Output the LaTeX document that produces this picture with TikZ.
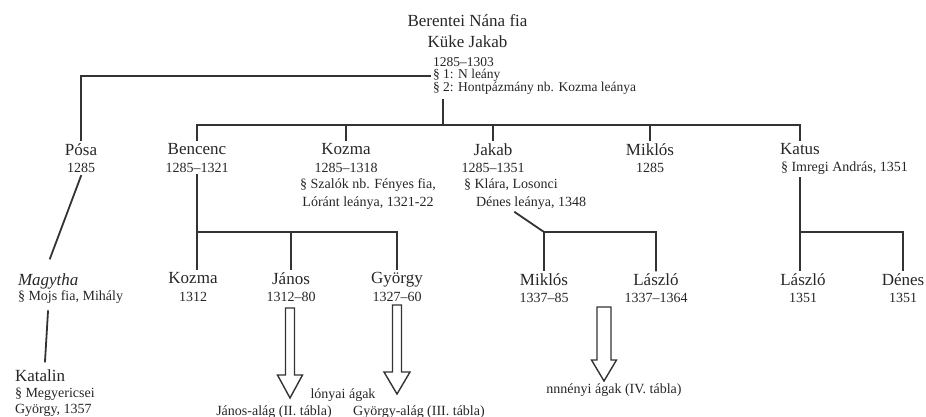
\documentclass[tikz,border=0pt]{standalone}
\usepackage{fontspec}
\setmainfont{Liberation Serif}
\usepackage{tikz}
\usetikzlibrary{calc}

\newcommand{\pname}[1]{{\fontsize{17}{17.5}\selectfont #1}}
\newcommand{\hollowarrow}[5]{%
        \draw [arrow_style] ($(#1)+(-#3,0)$) -- ($(#2)+(-#3,-#5)$) -- ($(#2)+(-#4,-#5)$)
        -- (#2) -- ($(#2)+(#4,-#5)$) -- ($(#2)+(#3,-#5)$) -- ($(#1)+(#3,0)$) -- cycle;}

\begin{document}
\begin{tikzpicture}[x=1pt, y=-1pt,
        node_style/.style={inner sep=0pt, outer sep=3pt, align=center, text=black!85, font=\fontsize{14}{17.5}\selectfont},
        left_node_style/.style={node_style, align=left},
        edge_style/.style={draw=black!80, line width=1.8pt, line cap=rect},
        arrow_style/.style={draw=black!80, line width=1.4pt, fill=white, line join=miter}]

        \useasboundingbox (0,0) rectangle (926,417);

        \node [node_style, anchor=north, font=\fontsize{17}{21}\selectfont](kuke) at (467.5,12) {Berentei Nána fia\\Küke Jakab};

        \node [left_node_style, anchor=north west, font=\fontsize{13.5}{12.5}\selectfont](kuke_dat) at (430,54.5) {1285–1303\\§ 1: N leány\\§ 2: Hontpázmány nb. Kozma leánya};

        \node [node_style, anchor=north](posa) at (81,140.5) {\pname{Pósa}\\1285};

        \node [node_style, anchor=north](bencenc) at (197,140.5) {\pname{Bencenc}\\1285–1321};

        \node [node_style, anchor=north](kozma) at (346,140.5) {\pname{Kozma}\\1285–1318};

        \node [node_style, anchor=north](kozma_sp) at (368,176) {§ Szalók nb. Fényes fia,\\Lóránt leánya, 1321-22};

        \node [node_style, anchor=north](jakab) at (493,140.5) {\pname{Jakab}\\1285–1351};

        \node [left_node_style, anchor=north west](jakab_sp) at (461,176) {§ Klára, Losonci\\\hspace{12pt}Dénes leánya, 1348};

        \node [node_style, anchor=north](miklos) at (650,140.5) {\pname{Miklós}\\1285};

        \node [node_style, anchor=north](katus) at (800,140.5) {\pname{Katus}};

        \node [left_node_style, anchor=north west](katus_sp) at (778,159) {§ Imregi András, 1351};

        \node [left_node_style, anchor=north west, font=\fontsize{14}{15}\selectfont](magytha) at (15,270.5) {\pname{\itshape Magytha}\\§ Mojs fia, Mihály};

        \node [node_style, anchor=north](kozma2) at (193,269.5) {\pname{Kozma}\\1312};

        \node [node_style, anchor=north](janos) at (291,269.5) {\pname{János}\\1312–80};

        \node [node_style, anchor=north](gyorgy) at (397,269.5) {\pname{György}\\1327–60};

        \node [node_style, anchor=north](miklos2) at (544,270.5) {\pname{Miklós}\\1337–85};

        \node [node_style, anchor=north](laszlo) at (656,270.5) {\pname{László}\\1337–1364};

        \node [node_style, anchor=north](laszlo2) at (803,270.5) {\pname{László}\\1351};

        \node [node_style, anchor=north](denes) at (903,270.5) {\pname{Dénes}\\1351};

        \node [left_node_style, anchor=north west, font=\fontsize{14}{16}\selectfont](katalin) at (12,366.5) {\pname{Katalin}\\§ Megyericsei\\György, 1357};

        \node [node_style, anchor=base](lonyai_br) at (343,398) {lónyai ágak};

        \node [node_style, anchor=base](janos_br) at (274,415) {János-alág (II. tábla)};

        \node [node_style, anchor=base](gyorgy_br) at (419,415) {György-alág (III. tábla)};

        \node [node_style, anchor=base](jakab_br) at (614,393) {nnnényi ágak (IV. tábla)};

        \coordinate (kuke_foot) at (443,100);
        \coordinate (bar1) at (443,125);
        \coordinate (bar2) at (443,232);

        \draw [edge_style] (posa.north) |- (kuke_dat.west);

        \draw [edge_style] (kuke_foot) -- (bar1);

        \draw [edge_style] (bencenc.north |- bar1) -- (katus.north |- bar1);

        \foreach \n in {bencenc,kozma,jakab,miklos,katus}
            \draw [edge_style] (\n.north |- bar1) -- (\n.north);

        \draw [edge_style] (posa.south) -- ($(magytha.north west)+(35,-12)$);

        \draw [edge_style] ($(magytha.south west)+(33,5)$) -- ($(katalin.north west)+(33,-5)$);

        \draw [edge_style] (bencenc.south) -- (bencenc.south |- kozma2.north);

        \draw [edge_style] (bencenc.south |- bar2) -| (gyorgy.north);

        \draw [edge_style] (janos.north |- bar2) -- (janos.north);

        \draw [edge_style] ($(jakab_sp.south)+(-10,0)$) -- (miklos2.north |- bar2) -| (laszlo.north);

        \draw [edge_style] (miklos2.north |- bar2) -- (miklos2.north);

        \draw [edge_style] (katus.south |- katus_sp.south) -- (katus.south |- laszlo2.north);

        \draw [edge_style] (katus.south |- bar2) -| (denes.north);

        \coordinate (janos_top) at (290,308);
        \coordinate (janos_tip) at (290,398);
        \coordinate (gyorgy_top) at (397,305);
        \coordinate (gyorgy_tip) at (397,394);
        \coordinate (jakab_top) at (604,307);
        \coordinate (jakab_tip) at (604,381);

        \hollowarrow{janos_top}{janos_tip}{4.5}{12.5}{23}
        \hollowarrow{gyorgy_top}{gyorgy_tip}{4.5}{13}{22}
        \hollowarrow{jakab_top}{jakab_tip}{7}{12.5}{21}

        \end{tikzpicture}
\end{document}
